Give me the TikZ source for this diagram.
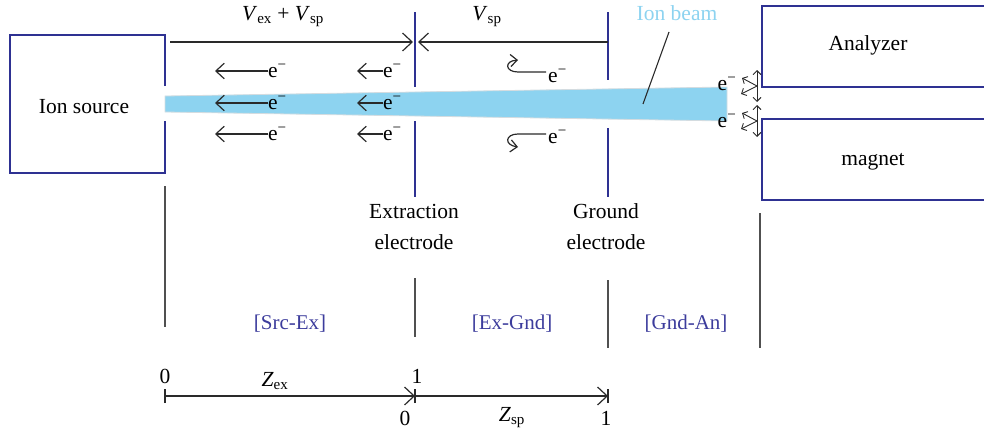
\documentclass[tikz,border=0pt]{standalone}
\usepackage{fontspec}
\setmainfont{Liberation Serif}
\usetikzlibrary{arrows.meta}
\definecolor{boxblue}{HTML}{2E3192}
\definecolor{beamblue}{HTML}{8DD3F0}
\definecolor{beamedge}{HTML}{D4DCE0}
\definecolor{labblue}{HTML}{3C3C9C}
\definecolor{gline}{HTML}{505050}
\definecolor{ink}{HTML}{2A2A2A}
\newcommand{\elec}{e\textsuperscript{\char"2212}}
\begin{document}
\begin{tikzpicture}[x=1pt,y=-1pt,
  txt/.style={font=\fontsize{21.5}{31}\selectfont, inner sep=0pt, text=black},
  boxline/.style={draw=boxblue, line width=1.4pt},
  electrode/.style={draw=boxblue, line width=1.4pt},
  sepline/.style={draw=gline, line width=1.5pt},
  dimarrow/.style={draw=ink, line width=1.2pt, -{Straight Barb[length=8pt,width=15pt,line width=1.2pt,scale=1.2]}},
  earrow/.style={draw=ink, line width=1.2pt, -{Straight Barb[length=7pt,width=13pt,line width=1.2pt,scale=1.2]}},
  carrow/.style={draw=ink, line width=1.2pt, -{Straight Barb[length=6pt,width=11pt,line width=1.2pt,scale=1.1]}},
  burst/.style={draw=ink, line width=0.9pt, -{Straight Barb[length=4pt,width=8pt,line width=0.9pt]}},
  region/.style={font=\fontsize{21}{22}\selectfont, inner sep=0pt, text=labblue}]
\useasboundingbox (0,0) rectangle (984,431);

% ion beam
\fill[beamblue, draw=beamedge, line width=0.8pt] (165,96) -- (727,87) -- (727,121) -- (165,112) -- cycle;

% ion source box (open at beam)
\draw[boxline] (165,86) -- (165,35) -- (10,35) -- (10,173) -- (165,173) -- (165,121);
\node[txt] (src) at (84,107) {Ion source};

% analyzer / magnet boxes
\draw[boxline] (986,6) -| (762,87) -- (986,87);
\draw[boxline] (986,119) -| (762,200) -- (986,200);
\node[txt] (ana) at (868,45) {Analyzer};
\node[txt] (mag) at (873,162) {magnet};

% electrodes
\coordinate (ex1) at (415,12); \coordinate (ex2) at (415,87);
\coordinate (ex3) at (415,121); \coordinate (ex4) at (415,197);
\coordinate (gd1) at (608,12); \coordinate (gd2) at (608,80);
\coordinate (gd3) at (608,128); \coordinate (gd4) at (608,197);
\draw[electrode] (ex1) -- (ex2);
\draw[electrode] (ex3) -- (ex4);
\draw[electrode] (gd1) -- (gd2);
\draw[electrode] (gd3) -- (gd4);

% top dimension arrows
\coordinate (t0) at (170,42); \coordinate (t1) at (413,42);
\coordinate (t2) at (608,42); \coordinate (t3) at (418,42);
\draw[dimarrow] (t0) -- (t1);
\draw[dimarrow] (t2) -- (t3);
\node[txt] (vl1) at (283,17) {\textit{V}\textsubscript{ex} + \textit{V}\textsubscript{sp}};
\node[txt] (vl2) at (487,17) {\textit{V}\textsubscript{sp}};

% electrons flowing back
\foreach \n/\y in {a/71, b/103, c/134} {
  \node[txt, anchor=west] (el\n) at (268,\y) {\elec};
  \coordinate (tl\n) at (215,\y);
  \draw[earrow] (el\n.west) -- (tl\n);
  \node[txt, anchor=west] (er\n) at (383,\y) {\elec};
  \coordinate (tr\n) at (357,\y);
  \draw[earrow] (er\n.west) -- (tr\n);
}

% reflected electrons
\node[txt, anchor=west] (eu) at (548,76) {\elec};
\node[txt, anchor=west] (ed) at (548,137) {\elec};
\coordinate (cu) at (518,72); \coordinate (cue) at (518,60);
\coordinate (cd) at (518,134); \coordinate (cde) at (518,147);
\draw[carrow] (546,72) -- (cu) .. controls (505,72) and (504,61) .. (cue);
\draw[carrow] (546,134) -- (cd) .. controls (505,134) and (504,145) .. (cde);

% ion beam label
\node[txt, text=beamblue] (ib) at (677,13) {Ion beam};
\coordinate (ibp) at (643,104);
\draw[ink, line width=1.1pt] (669,32) -- (ibp);

% electrons at analyzer entrance
\node[txt] (eA) at (727,84) {\elec};
\node[txt] (eB) at (727,121) {\elec};
\foreach \n/\y in {A/86, B/121} {
  \coordinate (o\n) at (757,\y);
  \draw[burst] (o\n) -- ++(0,-16);
  \draw[burst] (o\n) -- ++(0,16);
  \draw[burst] (o\n) -- ++(-15,-8);
  \draw[burst] (o\n) -- ++(-16,8);
}

% electrode labels
\node[txt, align=center] (exl) at (414,227) {Extraction\\electrode};
\node[txt, align=center] (gdl) at (606,227) {Ground\\electrode};

% region separators
\coordinate (s1) at (165,186); \coordinate (s1b) at (165,327);
\coordinate (s2) at (415,278); \coordinate (s2b) at (415,337);
\coordinate (s3) at (608,280); \coordinate (s3b) at (608,348);
\coordinate (s4) at (760,213); \coordinate (s4b) at (760,348);
\draw[sepline] (s1) -- (s1b);
\draw[sepline] (s2) -- (s2b);
\draw[sepline] (s3) -- (s3b);
\draw[sepline] (s4) -- (s4b);
\node[region] (r1) at (290,324) {[Src-Ex]};
\node[region] (r2) at (512,324) {[Ex-Gnd]};
\node[region] (r3) at (686,324) {[Gnd-An]};

% bottom axis
\coordinate (a0) at (165,396); \coordinate (a1) at (415,396); \coordinate (a2) at (608,396);
\draw[dimarrow] (a0) -- (a1);
\draw[dimarrow] (a1) -- (a2);
\foreach \c in {a0,a1,a2} \draw[ink, line width=1.1pt] ([yshift=-7pt]\c) -- ([yshift=7pt]\c);
\node[txt] (z0) at (165,376) {0};
\node[txt] (z1) at (417,376) {1};
\node[txt] (z2) at (405,418) {0};
\node[txt] (z3) at (606,418) {1};
\node[txt] (zex) at (275,381) {\textit{Z}\textsubscript{ex}};
\node[txt] (zsp) at (512,418) {\textit{Z}\textsubscript{sp}};
\end{tikzpicture}
\end{document}
